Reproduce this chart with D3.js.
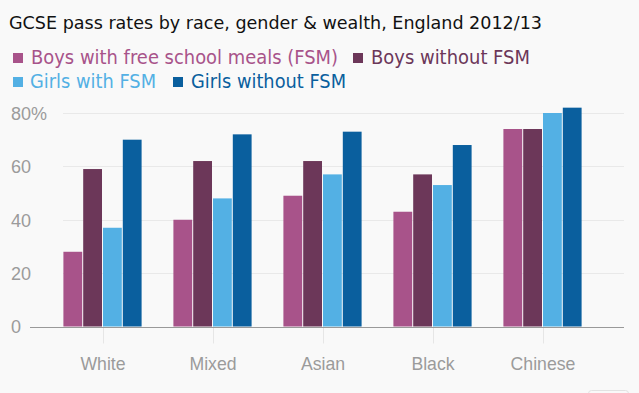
<!DOCTYPE html>
<html lang="en">
  <head>
    <meta charset="utf-8">
    <title>GCSE pass rates</title>
    <script src="https://d3js.org/d3.v7.min.js"></script>
    <style>
      body { margin: 0; background: #f9f9f9; }
      svg { display: block; font-family: "DejaVu Sans", sans-serif; }
      .title { font-size: 17px; fill: #111; }
      .legend text { font-size: 19px; }
      .tick text { fill: #9b9b9b; }
    </style>
  </head>
  <body>
    <div id="chart"></div>
    <script>

      var categories = ["White", "Mixed", "Asian", "Black", "Chinese"];
      var seriesNames = ["Boys with free school meals (FSM)", "Boys without FSM", "Girls with FSM", "Girls without FSM"];
      var colors = ["#a8538a", "#6c3759", "#53b0e4", "#0a5f9e"];

      // pass rates (%) per category, one array per series
      var boysFsm = [28, 40, 49, 43, 74];
      var boysNoFsm = [59, 62, 62, 57, 74];
      var girlsFsm = [37, 48, 57, 53, 80];
      var girlsNoFsm = [70, 72, 73, 68, 82];
      var yTicks = [0, 20, 40, 60, 80];

      var series = [boysFsm, boysNoFsm, girlsFsm, girlsNoFsm];

      var width = 639;
      var height = 393;
      var margin = {top: 113, left: 48, right: 41, bottom: 66};

      var svg = d3.select("#chart")
        .append("svg")
        .attr("width", width)
        .attr("height", height);

      svg.append("text")
        .attr("class", "title")
        .attr("x", 9)
        .attr("y", 29)
        .attr("textLength", 533)
        .attr("lengthAdjust", "spacingAndGlyphs")
        .text("GCSE pass rates by race, gender & wealth, England 2012/13");

      // legend, two rows
      var legendPos = [
        {x: 13, y: 53, w: 307}, {x: 353, y: 53, w: 159},
        {x: 13, y: 77, w: 126}, {x: 173, y: 77, w: 155}
      ];
      var legend = svg.append("g").attr("class", "legend")
        .selectAll("g")
        .data(seriesNames)
        .enter().append("g")
          .attr("transform", function(d, i){ return `translate(${legendPos[i].x},${legendPos[i].y})`; });
      legend.append("rect")
        .attr("width", 10)
        .attr("height", 10)
        .attr("fill", function(d, i){ return colors[i]; });
      legend.append("text")
        .attr("x", function(d, i){ return i == 2 ? 17 : 18; })
        .attr("y", 11)
        .attr("textLength", function(d, i){ return legendPos[i].w; })
        .attr("lengthAdjust", "spacingAndGlyphs")
        .attr("fill", function(d, i){ return colors[i]; })
        .text(function(d){ return d; });

      var xScale = d3.scaleBand()
        .domain(categories)
        .range([margin.left, width - margin.right])
        .paddingInner(0.28)
        .paddingOuter(0.14);

      var xSub = d3.scaleBand()
        .domain(d3.range(series.length))
        .range([0, xScale.bandwidth()]);

      var yScale = d3.scaleLinear()
        .domain([0, 80])
        .range([height - margin.bottom - 0.5, margin.top]);

      // gridlines
      svg.append("g")
        .selectAll("line")
        .data(yTicks.filter(function(d){ return d > 0; }))
        .enter().append("line")
          .attr("x1", 63)
          .attr("x2", width - 15)
          .attr("y1", function(d){ return Math.round(yScale(d)) + 0.5; })
          .attr("y2", function(d){ return Math.round(yScale(d)) + 0.5; })
          .attr("stroke", "#e9e9e9");

      // category ticks below baseline
      svg.append("g")
        .selectAll("line")
        .data(categories)
        .enter().append("line")
          .attr("x1", function(d){ return Math.round(xScale(d) + xScale.bandwidth() / 2) + 0.5; })
          .attr("x2", function(d){ return Math.round(xScale(d) + xScale.bandwidth() / 2) + 0.5; })
          .attr("y1", yScale(0))
          .attr("y2", yScale(0) + 17)
          .attr("stroke", "#e6e6e6");

      // bars
      var groups = svg.append("g")
        .selectAll("g")
        .data(categories)
        .enter().append("g")
          .attr("transform", function(d){ return `translate(${xScale(d)},0)`; });

      groups.selectAll("rect")
        .data(function(d, ci){ return series.map(function(s, si){ return {si: si, v: s[ci]}; }); })
        .enter().append("rect")
          .attr("x", function(d){ return xSub(d.si); })
          .attr("y", function(d){ return yScale(d.v); })
          .attr("width", xSub.bandwidth() - 1)
          .attr("height", function(d){ return yScale(0) - yScale(d.v); })
          .attr("fill", function(d){ return colors[d.si]; });

      // baseline
      svg.append("line")
        .attr("x1", 30)
        .attr("x2", width - 15)
        .attr("y1", Math.round(yScale(0)) + 0.5)
        .attr("y2", Math.round(yScale(0)) + 0.5)
        .attr("stroke", "#999");

      // y axis labels
      var yAxis = svg.append("g")
        .attr("transform", "translate(11,0)")
        .call(d3.axisLeft(yScale).tickValues(yTicks).tickSize(0)
          .tickFormat(function(d){ return d == 80 ? d + "%" : d; }));
      yAxis.select(".domain").remove();
      yAxis.selectAll("text")
        .attr("x", 0)
        .attr("dy", "0.36em")
        .style("font-size", "18px")
        .style("text-anchor", "start");

      // x axis labels
      var xAxis = svg.append("g")
        .attr("transform", `translate(0,${yScale(0)})`)
        .call(d3.axisBottom(xScale).tickSize(0).tickPadding(33));
      xAxis.select(".domain").remove();
      xAxis.selectAll("text")
        .style("font-size", "19px")
        .attr("dy", "0.55em")
        .attr("textLength", function(){ return this.getComputedTextLength() * 0.93; })
        .attr("lengthAdjust", "spacingAndGlyphs");

      // faint edge of a box at the bottom right
      svg.append("rect")
        .attr("x", 588.5)
        .attr("y", 390.5)
        .attr("width", 40)
        .attr("height", 20)
        .attr("rx", 3)
        .attr("fill", "none")
        .attr("stroke", "#e2e2e2");

    </script>
  </body>
</html>
